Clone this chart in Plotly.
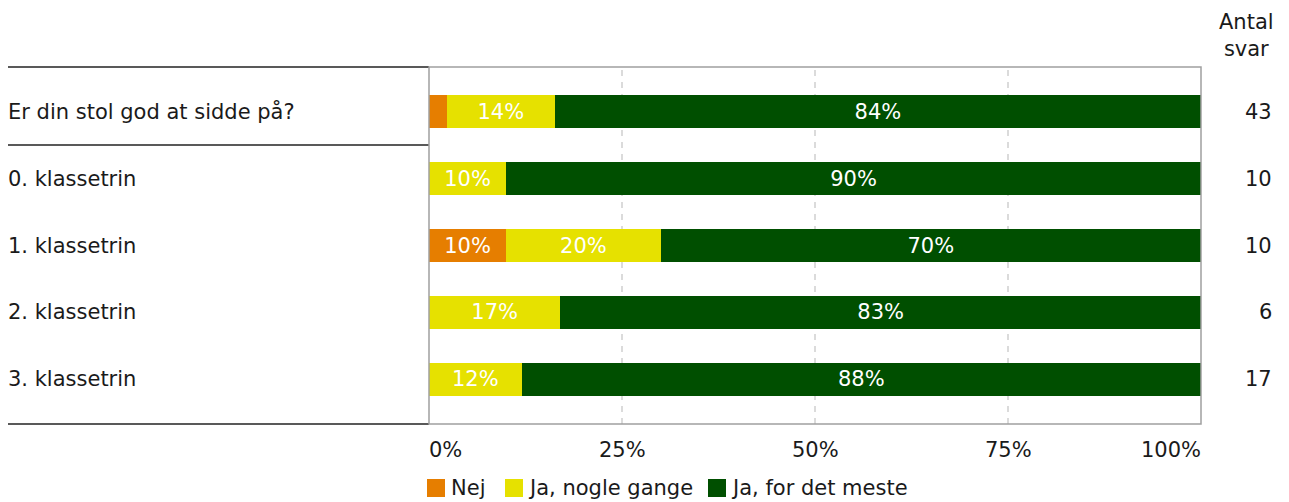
import plotly.graph_objects as go

# data
questions = ["Er din stol god at sidde på?", "0. klassetrin", "1. klassetrin",
             "2. klassetrin", "3. klassetrin"]
nej = [2.3, 0, 10, 0, 0]
nogle_gange = [14, 10, 20, 17, 12]
det_meste = [83.7, 90, 70, 83, 88]
antal_svar = [43, 10, 10, 6, 17]
tick_vals = [0, 25, 50, 75, 100]
tick_text = ["0%", "25%", "50%", "75%", "100%"]

series = [("Nej", nej, "#E67E00"),
          ("Ja, nogle gange", nogle_gange, "#E6E100"),
          ("Ja, for det meste", det_meste, "#004F00")]

FONT = "DejaVu Sans, Verdana, sans-serif"
FS = 21
# the page body has an 8px margin, so the figure is a bit smaller than the window
W, H = 1281, 494
X0, X1, Y0, Y1 = 429, 1201, 67, 424   # plot area in window pixels
pw, ph = X1 - X0, Y1 - Y0
PAD = 0.165   # extra room above the first and below the last row (in bands)


def px(x):
    return (x - X0) / pw


def py(y):
    return (Y1 - y) / ph


fig = go.Figure()
for name, vals, color in series:
    labels = ["{:.0f}%".format(v) if v >= 5 else "" for v in vals]
    fig.add_trace(go.Bar(
        y=questions, x=vals, name=name, orientation="h",
        marker=dict(color=color, line=dict(width=0)),
        text=labels, textposition="inside", insidetextanchor="middle",
        textfont=dict(color="white", size=FS, family=FONT),
        constraintext="none", hoverinfo="skip", showlegend=False,
    ))

ann = dict(showarrow=False, borderpad=0, borderwidth=0, font=dict(size=FS))
annotations = []
# row labels on the left
for q in questions:
    annotations.append(dict(ann, x=px(8), y=q, xref="paper", yref="y", text=q,
                            xanchor="left", yanchor="middle"))
# counts on the right
for q, n in zip(questions, antal_svar):
    annotations.append(dict(ann, x=px(1272), y=q, xref="paper", yref="y", text=str(n),
                            xanchor="right", yanchor="middle"))
annotations.append(dict(ann, x=px(1246), y=py(35), xref="paper", yref="paper",
                        text="Antal<br>svar", xanchor="center", yanchor="middle"))
# x tick labels
for v, t in zip(tick_vals, tick_text):
    anchor = "left" if v == 0 else ("right" if v == 100 else "center")
    annotations.append(dict(ann, x=v, y=py(450), xref="x", yref="paper", text=t,
                            xanchor=anchor, yanchor="middle"))

shapes = []
# separator lines on the left side: top, after the total row, bottom
line_style = dict(color="#222222", width=1.5)
for yb in [0, 1]:
    shapes.append(dict(type="line", xref="paper", yref="paper", x0=px(8), x1=0,
                       y0=yb, y1=yb, line=line_style))
shapes.append(dict(type="line", xref="paper", yref="y", x0=px(8), x1=0,
                   y0=0.5, y1=0.5, line=line_style))
# dashed gridlines
for v in [25, 50, 75]:
    shapes.append(dict(type="line", xref="x", yref="paper", x0=v, x1=v, y0=0, y1=1,
                       line=dict(color="#C4C4C4", width=1.2, dash="6px,6px"),
                       layer="below"))
# plot frame
shapes.append(dict(type="rect", xref="paper", yref="paper", x0=0, x1=1, y0=0, y1=1,
                   line=dict(color="#A0A0A0", width=1.5)))

# legend drawn by hand to get the big square swatches
legend_items = [(427, 451), (505, 528), (708, 731)]
for (sx, tx), (name, vals, color) in zip(legend_items, series):
    shapes.append(dict(type="rect", xref="paper", yref="paper",
                       x0=px(sx), x1=px(sx + 18), y0=py(497), y1=py(479),
                       fillcolor=color, line=dict(width=0)))
    annotations.append(dict(ann, x=px(tx), y=py(488), xref="paper", yref="paper",
                            text=name, xanchor="left", yanchor="middle"))

fig.update_layout(
    width=W, height=H,
    margin=dict(l=X0 - 8, r=W - (X1 - 8), t=Y0 - 8, b=H - (Y1 - 8), autoexpand=False),
    barmode="stack", bargap=0.5,
    paper_bgcolor="white", plot_bgcolor="white",
    font=dict(family=FONT, size=FS, color="#1a1a1a"),
    xaxis=dict(range=[0, 100], showgrid=False, showticklabels=False, zeroline=False,
               fixedrange=True),
    yaxis=dict(categoryorder="array", categoryarray=questions,
               range=[len(questions) - 0.5 + PAD, -0.5 - PAD],
               showticklabels=False, showgrid=False, zeroline=False, fixedrange=True),
    annotations=annotations, shapes=shapes,
    showlegend=False,
)

fig.write_html("out.html")
